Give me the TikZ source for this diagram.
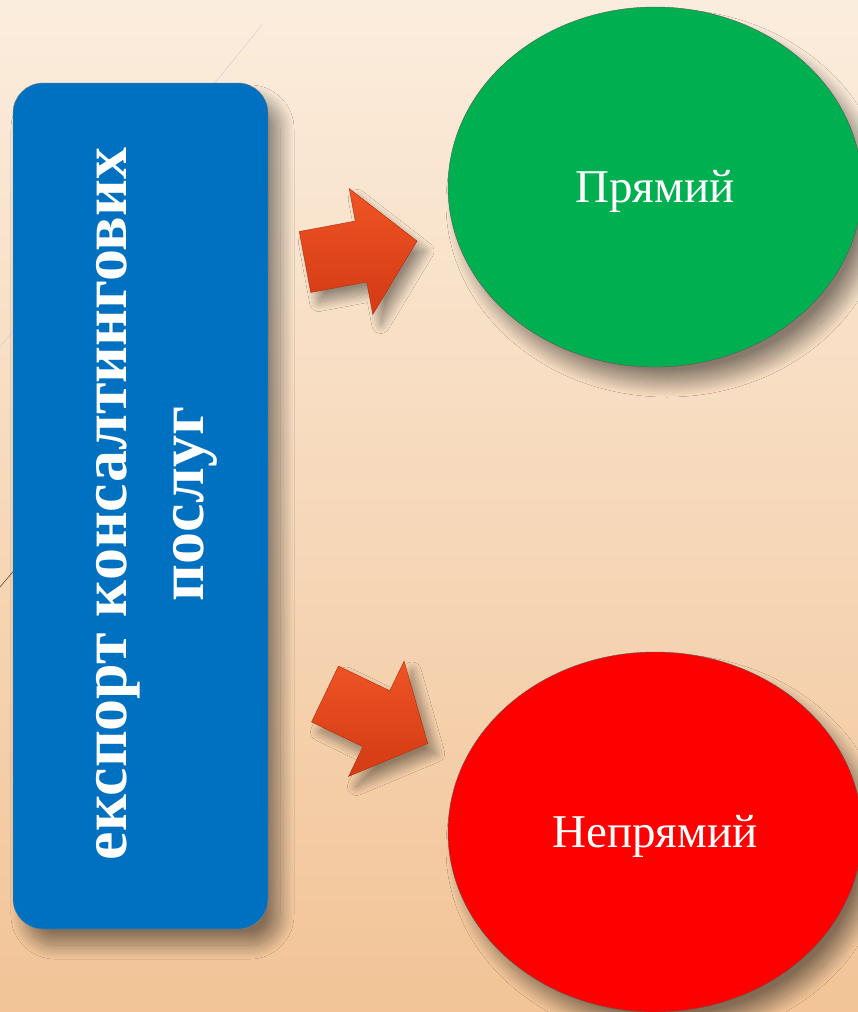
\documentclass[tikz,border=0pt]{standalone}
\usepackage{fontspec}
\setmainfont{Liberation Serif}
\usetikzlibrary{positioning}
\usetikzlibrary{shapes}
\usetikzlibrary{shadows.blur}
\definecolor{bgtop}{RGB}{251,237,221}
\definecolor{bgmid}{RGB}{247,217,183}
\definecolor{bgbot}{RGB}{242,196,151}
\definecolor{boxblue}{RGB}{0,112,192}
\definecolor{greenfill}{RGB}{0,176,80}
\definecolor{redfill}{RGB}{255,0,0}
\definecolor{arrowlight}{RGB}{238,84,36}
\definecolor{arrowdark}{RGB}{212,58,20}
\tikzset{
  softshadow/.style={blur shadow={shadow xshift=12pt, shadow yshift=-16pt, shadow blur radius=14pt,
    shadow blur steps=30, shadow opacity=45}},
  bluebox/.style={rectangle, rounded corners=30pt, fill=boxblue, draw=gray, thin, softshadow},
  roundshape/.style={ellipse, minimum width=414, minimum height=360, draw=gray!70!black, thin,
    text=white, font=\fontsize{47}{56}\selectfont, text height=31pt, text depth=0pt, softshadow},
  arrowshape/.style={top color=arrowlight, bottom color=arrowdark, draw=arrowdark!80!black, thin,
    blur shadow={shadow xshift=8pt, shadow yshift=-10pt, shadow blur radius=9pt,
      shadow blur steps=20, shadow opacity=40}}
}
\def\blockarrow#1#2{\draw[arrowshape, shift={#1}, rotate=#2] (0,-31) -- (57,-31) -- (57,-64) -- (114,0) -- (57,64) -- (57,31) -- (0,31) -- cycle;}

\begin{document}
\begin{tikzpicture}[x=1pt, y=-1pt]
\useasboundingbox (0,0) rectangle (858,1012);
\clip (0,0) rectangle (858,1012);
% background
\shade[top color=bgtop, middle color=bgmid, bottom color=bgbot] (0,0) rectangle (858,1012);
\draw[black!20, thin] (262,25) -- (0,347);
\draw[black!55!olive, semithick] (0,587) -- (40,540);

\node[bluebox, minimum width=255, minimum height=846] (export) at (140.5,506) {};
\node[rotate=90, align=center, text=white, font=\bfseries\fontsize{64}{77}\selectfont] (exportlabel) at (157,504) {експорт консалтингових\\послуг};

\node[roundshape, fill=greenfill] (direct) at (655,187) {Прямий};
\node[roundshape, fill=redfill] (indirect) at (655,832) {Непрямий};

\blockarrow{(305,262)}{10.6}
\blockarrow{(325,694)}{-25.7}
\end{tikzpicture}
\end{document}
